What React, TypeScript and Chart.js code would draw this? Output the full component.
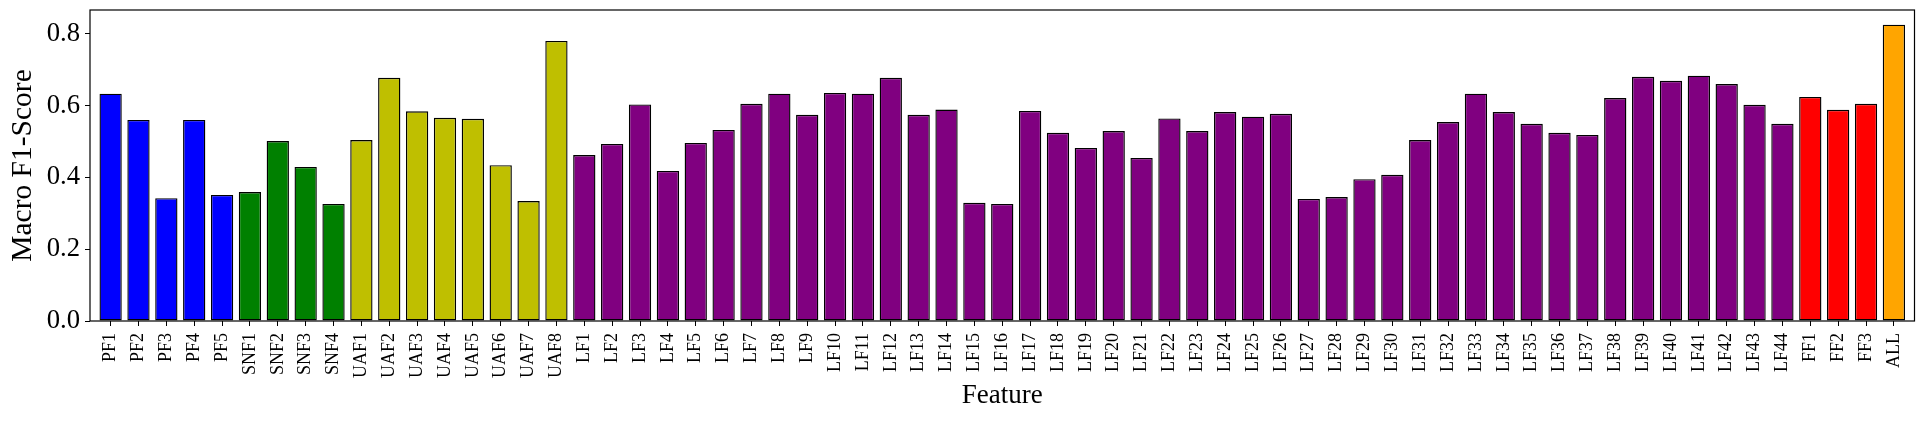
import React, { useEffect, useRef } from "react";
import { Chart, registerables } from "chart.js";

Chart.register(...registerables);

const pfLabels = ["PF1", "PF2", "PF3", "PF4", "PF5"];
const pfScores = [0.633, 0.56, 0.342, 0.56, 0.351];

const snfLabels = ["SNF1", "SNF2", "SNF3", "SNF4"];
const snfScores = [0.359, 0.501, 0.429, 0.326];

const uafLabels = ["UAF1", "UAF2", "UAF3", "UAF4", "UAF5", "UAF6", "UAF7", "UAF8"];
const uafScores = [0.504, 0.677, 0.584, 0.566, 0.563, 0.434, 0.334, 0.78];

const lfLabels = [
  "LF1", "LF2", "LF3", "LF4", "LF5", "LF6", "LF7", "LF8", "LF9", "LF10",
  "LF11", "LF12", "LF13", "LF14", "LF15", "LF16", "LF17", "LF18", "LF19", "LF20",
  "LF21", "LF22", "LF23", "LF24", "LF25", "LF26", "LF27", "LF28", "LF29", "LF30",
  "LF31", "LF32", "LF33", "LF34", "LF35", "LF36", "LF37", "LF38", "LF39", "LF40",
  "LF41", "LF42", "LF43", "LF44",
];
const lfScores = [
  0.462, 0.493, 0.603, 0.418, 0.496, 0.532, 0.605, 0.633, 0.574, 0.635,
  0.633, 0.677, 0.574, 0.589, 0.329, 0.326, 0.585, 0.524, 0.482, 0.529,
  0.454, 0.564, 0.529, 0.582, 0.569, 0.577, 0.34, 0.345, 0.395, 0.407,
  0.504, 0.554, 0.633, 0.582, 0.549, 0.524, 0.518, 0.621, 0.68, 0.669,
  0.683, 0.66, 0.602, 0.549,
];

const ffLabels = ["FF1", "FF2", "FF3"];
const ffScores = [0.624, 0.588, 0.605];

const allLabels = ["ALL"];
const allScores = [0.825];

const groupColors = ["#0000ff", "#008000", "#bfbf00", "#800080", "#ff0000", "#ffa500"];

const yTicks = [0, 0.2, 0.4, 0.6, 0.8];
const yMax = 0.866;
const xPad = 0.74;

const groups = [
  { labels: pfLabels, scores: pfScores },
  { labels: snfLabels, scores: snfScores },
  { labels: uafLabels, scores: uafScores },
  { labels: lfLabels, scores: lfScores },
  { labels: ffLabels, scores: ffScores },
  { labels: allLabels, scores: allScores },
];

const labels: string[] = groups.flatMap((g) => g.labels);
const values: number[] = groups.flatMap((g) => g.scores);
const colors: string[] = groups.flatMap((g, gi) => g.scores.map(() => groupColors[gi]));

const SERIF = "'Liberation Serif', 'Times New Roman', serif";

const framePlugin = {
  id: "frame",
  afterDraw(chart: any) {
    const { ctx, chartArea } = chart;
    ctx.save();
    ctx.strokeStyle = "#000";
    ctx.lineWidth = 1.2;
    ctx.strokeRect(chartArea.left, chartArea.top, chartArea.right - chartArea.left, chartArea.bottom - chartArea.top);
    ctx.restore();
  },
};

const zeroPad = (scale: any) => {
  scale.paddingLeft = 0;
  scale.paddingRight = 0;
  scale.paddingTop = 0;
  scale.paddingBottom = 0;
};

export default function App() {
  const ref = useRef<HTMLCanvasElement | null>(null);

  useEffect(() => {
    if (!ref.current) return;
    const chart = new Chart(ref.current, {
      type: "bar",
      data: {
        datasets: [
          {
            data: values.map((v, i) => ({ x: i, y: v })),
            backgroundColor: colors,
            borderColor: "#000",
            borderWidth: 1.4,
            borderSkipped: false,
            barPercentage: 0.8,
            categoryPercentage: 1.0,
          },
        ],
      },
      options: {
        responsive: false,
        animation: false,
        devicePixelRatio: 1,
        layout: { padding: { top: 10, right: 4.5, left: 0, bottom: 0 } },
        plugins: { legend: { display: false }, tooltip: { enabled: false } },
        scales: {
          x: {
            type: "linear",
            offset: false,
            min: -xPad,
            max: labels.length - 1 + xPad,
            afterBuildTicks: (scale: any) => {
              scale.ticks = labels.map((_, i) => ({ value: i }));
            },
            afterFit: (scale: any) => {
              scale.height = 105;
              zeroPad(scale);
            },
            grid: { offset: false, drawOnChartArea: false, drawTicks: true, tickLength: 5, color: "#000", lineWidth: 1 },
            border: { display: false },
            ticks: {
              autoSkip: false,
              minRotation: 90,
              maxRotation: 90,
              padding: 7,
              color: "#000",
              font: { family: SERIF, size: 18 },
              callback: (v: any) => labels[v as number] ?? "",
            },
            title: {
              display: true,
              text: "Feature",
              color: "#000",
              font: { family: SERIF, size: 27 },
              padding: { top: 0, bottom: 14 },
            },
          },
          y: {
            min: 0,
            max: yMax,
            afterBuildTicks: (scale: any) => {
              scale.ticks = yTicks.map((v) => ({ value: v }));
            },
            afterFit: (scale: any) => {
              scale.width = 90;
              zeroPad(scale);
            },
            grid: { drawOnChartArea: false, drawTicks: true, tickLength: 5, color: "#000", lineWidth: 1 },
            border: { display: false },
            ticks: {
              padding: 5,
              color: "#000",
              font: { family: SERIF, size: 26.7 },
              callback: (v: any) => Number(v).toFixed(1),
            },
            title: {
              display: true,
              text: "Macro F1-Score",
              color: "#000",
              font: { family: SERIF, size: 29.5 },
              padding: { top: 5.6, bottom: 0 },
            },
          },
        },
      },
      plugins: [framePlugin],
    } as any);
    return () => chart.destroy();
  }, []);

  return (
    <div style={{ position: "fixed", left: 0, top: 0, width: 1919, height: 426, background: "#fff" }}>
      <canvas ref={ref} width={1919} height={426} style={{ display: "block" }} />
    </div>
  );
}
